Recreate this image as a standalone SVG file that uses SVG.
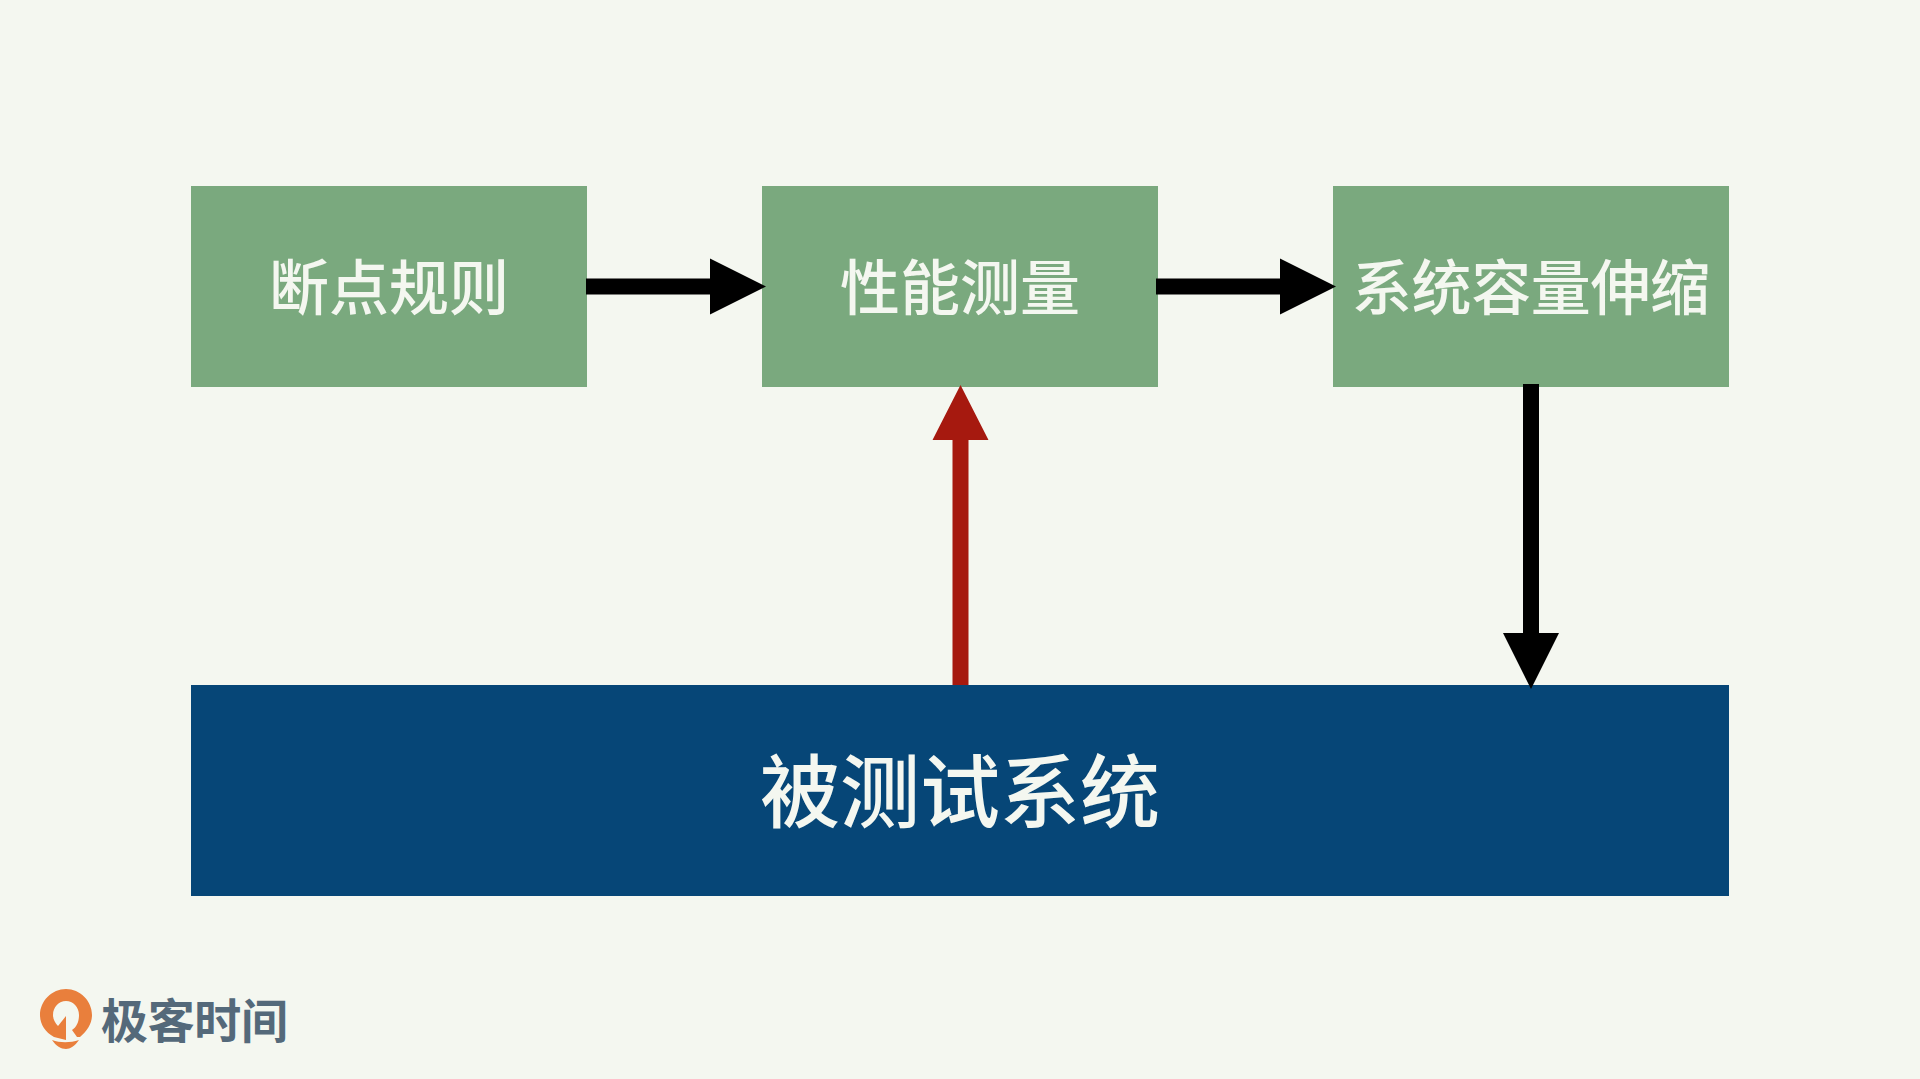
<svg xmlns="http://www.w3.org/2000/svg" width="1920" height="1079" viewBox="0 0 1920 1079">
<style>
.g{fill:#7aa97e}
.t{fill:#f4f7f0;font-family:"Noto Sans CJK SC",sans-serif;text-anchor:middle;font-weight:500}
.m{font-size:60px}
.b{font-size:80px}
.logo{fill:#e97f3c}
</style>
<rect width="1920" height="1079" fill="#f4f7f0"/>
<g id="node-breakpoint"><rect class="g" x="191" y="186" width="396" height="201"/><text class="t m" x="389" y="310">断点规则</text></g>
<g id="node-perf"><rect class="g" x="762" y="186" width="396" height="201"/><text class="t m" x="960" y="310">性能测量</text></g>
<g id="node-scale"><rect class="g" x="1333" y="186" width="396" height="201"/><text class="t m" x="1531" y="310" textLength="358" lengthAdjust="spacing">系统容量伸缩</text></g>
<g id="node-sut"><rect x="191" y="685" width="1538" height="211" fill="#064677"/><text class="t b" x="960" y="821">被测试系统</text></g>
<g id="connectors">
<path d="M586 278.500H710V258.500L766 286.500L710 314.500V294.500H586Z" fill="#000"/>
<path d="M1156 278.500H1280V258.500L1336 286.500L1280 314.500V294.500H1156Z" fill="#000"/>
<path d="M1523 384V633H1503L1531 689L1559 633H1539V384Z" fill="#000"/>
<path d="M952.500 685V440H932.500L960.500 385L988.500 440H968.500V685Z" fill="#a6190f"/>
</g>
<g id="logo">
<path class="logo" d="M54 1037C45 1032 40 1024 40 1015C40 1001 52 989 66 989C80 989 92 1001 92 1015C92 1024 87 1031 80 1037L77 1037L72 1030C77 1027 79 1021 79 1015C79 1007 73 1001 66 1001C59 1001 53 1007 53 1015C53 1019 55 1023 58 1026L66 1016L66 1040Z"/>
<path class="logo" d="M52 1040C60 1043 70 1043 79 1040C75 1046 70 1049 66 1049C61 1049 56 1046 52 1040Z"/>
<text x="101" y="1038" font-family="'Noto Sans CJK SC',sans-serif" font-size="47" font-weight="700" fill="#54697a" textLength="187" lengthAdjust="spacing">极客时间</text>
</g>
</svg>
